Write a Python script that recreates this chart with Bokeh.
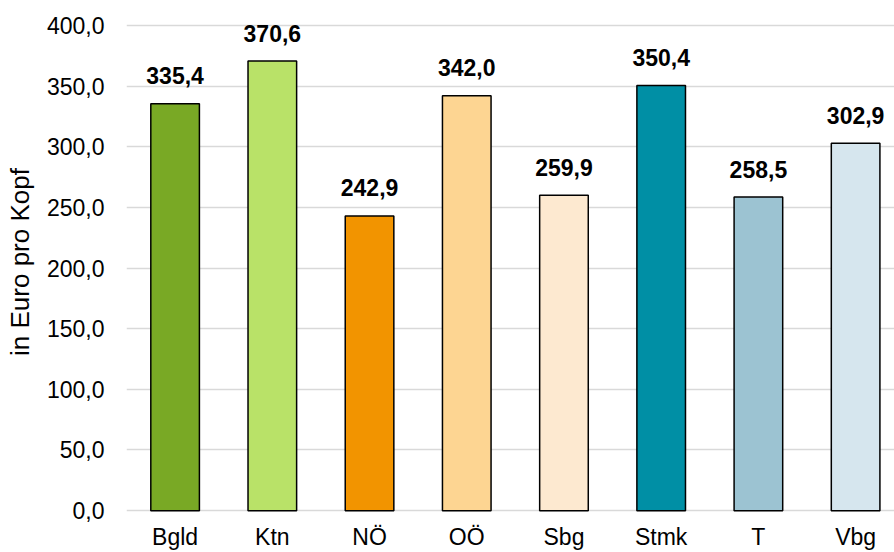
from bokeh.plotting import figure
from bokeh.models import ColumnDataSource, FixedTicker, Range1d, CustomJSTickFormatter
from bokeh.core.properties import value
from bokeh.embed import file_html
from bokeh.resources import INLINE

categories = ["Bgld", "Ktn", "NÖ", "OÖ", "Sbg", "Stmk", "T", "Vbg"]
values = [335.4, 370.6, 242.9, 342.0, 259.9, 350.4, 258.5, 302.9]
colors = ["#79a925", "#b9e268", "#f29400", "#fdd592", "#fde9d0", "#008fa5", "#9cc3d2", "#d6e6ee"]
y_ticks = [0, 50, 100, 150, 200, 250, 300, 350, 400]

positions = [i + 0.5 for i in range(len(categories))]
labels = [f"{v:.1f}".replace(".", ",") for v in values]

source = ColumnDataSource(dict(x=positions, top=values, color=colors, label=labels, cat=categories))

FONT = "Liberation Sans"

p = figure(width=894, height=552, output_backend="svg", toolbar_location=None,
           x_range=Range1d(0, 7.90), y_range=Range1d(-10.6, 420.5),
           min_border_left=126, min_border_right=0, min_border_top=0, min_border_bottom=26)
p.outline_line_color = None
p.background_fill_color = "white"
p.border_fill_color = "white"

p.vbar(x="x", top="top", bottom=0, width=0.5, fill_color="color", line_color="#000000",
       line_width=1.5, source=source)

p.text(x="x", y="top", text="label", source=source, text_align="center",
       text_baseline="alphabetic", y_offset=-28, text_font=value(FONT),
       text_font_size="23px", text_font_style="bold", text_color="#000000")

# y axis
p.yaxis.ticker = FixedTicker(ticks=y_ticks)
p.yaxis.formatter = CustomJSTickFormatter(code="return tick.toFixed(1).replace('.', ',');")
p.yaxis.axis_line_color = None
p.yaxis.major_tick_line_color = None
p.yaxis.minor_tick_line_color = None
p.yaxis.major_tick_out = 0
p.yaxis.major_tick_in = 0
p.yaxis.major_label_standoff = 22
p.yaxis.major_label_text_font = FONT
p.yaxis.major_label_text_font_size = "23px"
p.yaxis.major_label_text_color = "#000000"
p.yaxis.axis_label = "in Euro pro Kopf"
p.yaxis.axis_label_text_font = FONT
p.yaxis.axis_label_text_font_size = "26px"
p.yaxis.axis_label_text_font_style = "normal"
p.yaxis.axis_label_text_color = "#000000"
p.yaxis.axis_label_standoff = 9

# x axis
p.xaxis.ticker = FixedTicker(ticks=positions)
p.xaxis.major_label_overrides = {pos: cat for pos, cat in zip(positions, categories)}
p.xaxis.axis_line_color = None
p.xaxis.major_tick_line_color = None
p.xaxis.minor_tick_line_color = None
p.xaxis.major_tick_out = 0
p.xaxis.major_tick_in = 0
p.xaxis.major_label_standoff = 0
p.xaxis.major_label_text_font = FONT
p.xaxis.major_label_text_font_size = "23px"
p.xaxis.major_label_text_color = "#000000"

p.xgrid.grid_line_color = None
p.ygrid.ticker = FixedTicker(ticks=y_ticks)
p.ygrid.grid_line_color = "#d9d9d9"
p.ygrid.grid_line_width = 1.5
p.ygrid.level = "underlay"

open("out.html", "w").write(file_html(p, INLINE))
